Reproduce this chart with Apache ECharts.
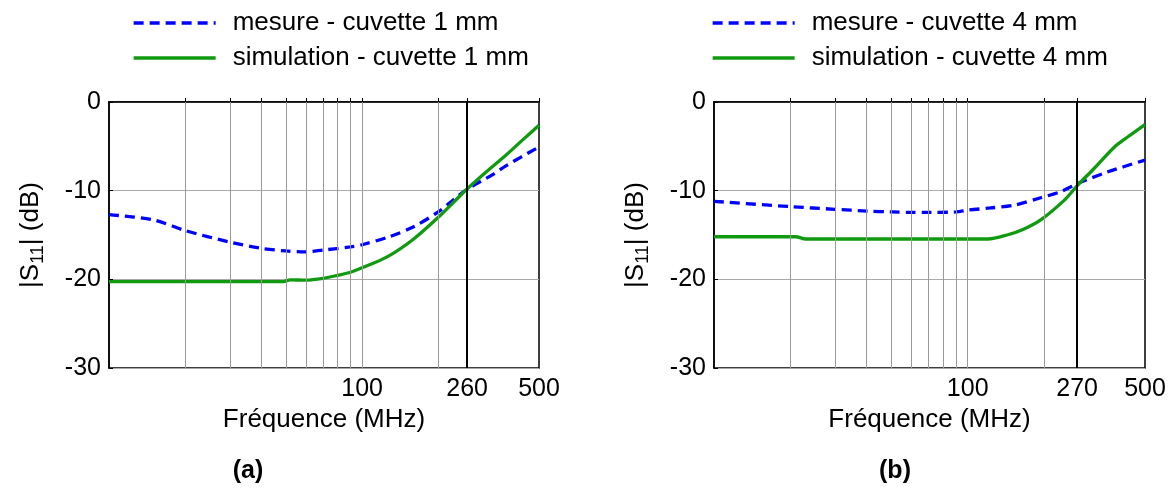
<!DOCTYPE html>
<html>
<head>
<meta charset="utf-8">
<script src="https://cdn.jsdelivr.net/npm/echarts@6/dist/echarts.min.js"></script>
<style>html,body{margin:0;padding:0;background:#fff}#c{width:1174px;height:492px}</style>
</head>
<body>
<div id="c"></div>
<script>
// Panel (a) – cuvette 1 mm
const freqMesA = [10, 15, 20, 30, 40, 50, 60, 70, 90, 100, 128, 159, 200, 228, 258, 328, 370, 500];
const mesA     = [-12.7, -13.3, -14.5, -15.8, -16.5, -16.8, -16.9, -16.7, -16.35, -16.1, -15.2, -14.1, -12.4, -11.1, -9.9, -8.2, -7.2, -5.07];
const freqSimA = [10, 49, 52, 60, 70, 80, 90, 100, 125, 159, 200, 228, 258, 309, 370, 430, 500];
const simA     = [-20.25, -20.25, -20.05, -20.1, -19.9, -19.55, -19.2, -18.7, -17.5, -15.5, -13.0, -11.4, -9.9, -7.9, -6.0, -4.3, -2.63];
// Panel (b) – cuvette 4 mm
const freqMesB = [10, 20, 30, 40, 50, 60, 70, 90, 100, 123, 152, 194, 233, 271, 355, 500];
const mesB     = [-11.2, -11.8, -12.1, -12.3, -12.4, -12.45, -12.45, -12.4, -12.2, -11.95, -11.65, -10.8, -10.1, -9.2, -7.9, -6.55];
const freqSimB = [10, 21, 23, 120, 143, 166, 194, 240, 271, 315, 379, 427, 500];
const simB     = [-15.2, -15.2, -15.45, -15.45, -15.0, -14.35, -13.3, -11.1, -9.4, -7.5, -5.07, -3.95, -2.55];

const gridFreqs = [20, 30, 40, 50, 60, 70, 80, 90, 100, 200];
const labelsA = [100, 260, 500];
const labelsB = [100, 270, 500];
const markA = 260, markB = 270;
const namesA = ['mesure - cuvette 1 mm', 'simulation - cuvette 1 mm'];
const namesB = ['mesure - cuvette 4 mm', 'simulation - cuvette 4 mm'];
const yTicks = { min: -30, max: 0, interval: 10 };

const FONT = "'Liberation Sans', Arial, sans-serif";
const BLUE = '#0000ff', GREEN = '#109a10';

function pairs(xs, ys) { return xs.map((x, i) => [x, ys[i]]); }

function xAxisFor(idx, labels) {
  return {
    type: 'log', logBase: 10, gridIndex: idx, min: 10, max: 500,
    name: 'Fréquence (MHz)', nameLocation: 'middle', nameGap: 39,
    nameTextStyle: { fontFamily: FONT, fontSize: 26, color: '#000' },
    axisLine: { show: true, lineStyle: { color: '#000', width: 1.5 } },
    axisTick: { show: true, inside: true, length: 4, customValues: gridFreqs.concat(labels), lineStyle: { color: '#000' } },
    minorTick: { show: false },
    axisLabel: { customValues: labels, fontFamily: FONT, fontSize: 25, color: '#000', margin: 9, formatter: v => String(Math.round(v)) },
    splitLine: { show: false }, minorSplitLine: { show: false }
  };
}
function yAxisFor(idx) {
  return {
    type: 'value', gridIndex: idx, min: yTicks.min, max: yTicks.max, interval: yTicks.interval,
    name: '|S{s|11}| (dB)', nameLocation: 'middle', nameGap: 62, nameRotate: 90,
    nameTextStyle: { fontFamily: FONT, fontSize: 26, color: '#000',
      rich: { s: { fontFamily: FONT, fontSize: 18, color: '#000', verticalAlign: 'bottom', padding: [14, 0, 0, 0] } } },
    axisLine: { show: true, lineStyle: { color: '#000', width: 1.5 } },
    axisTick: { show: true, inside: true, length: 4, lineStyle: { color: '#000' } },
    axisLabel: { fontFamily: FONT, fontSize: 25, color: '#000', margin: 8 },
    splitLine: { show: true, lineStyle: { color: '#aaa', width: 1 } }
  };
}
function gridSeries(idx, mark) {
  return {
    type: 'line', xAxisIndex: idx, yAxisIndex: idx, data: [], z: 1, silent: true,
    markLine: {
      silent: true, symbol: ['none', 'none'], label: { show: false }, animation: false,
      data: gridFreqs.map(f => ({ xAxis: f, lineStyle: { color: '#999', width: 1, type: 'solid' } }))
        .concat([{ xAxis: mark, lineStyle: { color: '#000', width: 2, type: 'solid' } }])
    }
  };
}
function dataSeries(idx, name, xs, ys, dashed) {
  return {
    type: 'line', name: name, xAxisIndex: idx, yAxisIndex: idx, z: 3,
    data: pairs(xs, ys), showSymbol: false, symbol: 'none', smooth: 0.3,
    lineStyle: { color: dashed ? BLUE : GREEN, width: 3.3, type: dashed ? [10, 6] : 'solid' },
    itemStyle: { color: dashed ? BLUE : GREEN }
  };
}
function legendFor(left, names) {
  return {
    data: names, orient: 'vertical', left: left, top: 5, itemWidth: 82, itemHeight: 14, itemGap: 9,
    itemStyle: { opacity: 0 },
    lineStyle: { width: 3.3 },
    textStyle: { fontFamily: FONT, fontSize: 26, color: '#000', lineHeight: 26, padding: [0, 0, 0, 12] }
  };
}

const chart = echarts.init(document.getElementById('c'), null, { renderer: 'canvas' });
chart.setOption({
  animation: false,
  backgroundColor: '#fff',
  grid: [
    { left: 109, top: 102, width: 430, height: 266, show: true, borderColor: '#000', borderWidth: 1.5, backgroundColor: 'transparent' },
    { left: 714, top: 102, width: 431, height: 266, show: true, borderColor: '#000', borderWidth: 1.5, backgroundColor: 'transparent' }
  ],
  legend: [legendFor(127, namesA), legendFor(706, namesB)],
  xAxis: [xAxisFor(0, labelsA), xAxisFor(1, labelsB)],
  yAxis: [yAxisFor(0), yAxisFor(1)],
  series: [
    gridSeries(0, markA), gridSeries(1, markB),
    dataSeries(0, namesA[0], freqMesA, mesA, true),
    dataSeries(0, namesA[1], freqSimA, simA, false),
    dataSeries(1, namesB[0], freqMesB, mesB, true),
    dataSeries(1, namesB[1], freqSimB, simB, false)
  ],
  graphic: [
    { type: 'text', x: 248, y: 471, style: { text: '(a)', font: "bold 25px 'Liberation Sans', Arial", textAlign: 'center', textVerticalAlign: 'middle', fill: '#000' } },
    { type: 'text', x: 895, y: 471, style: { text: '(b)', font: "bold 25px 'Liberation Sans', Arial", textAlign: 'center', textVerticalAlign: 'middle', fill: '#000' } }
  ]
});
</script>
</body>
</html>
